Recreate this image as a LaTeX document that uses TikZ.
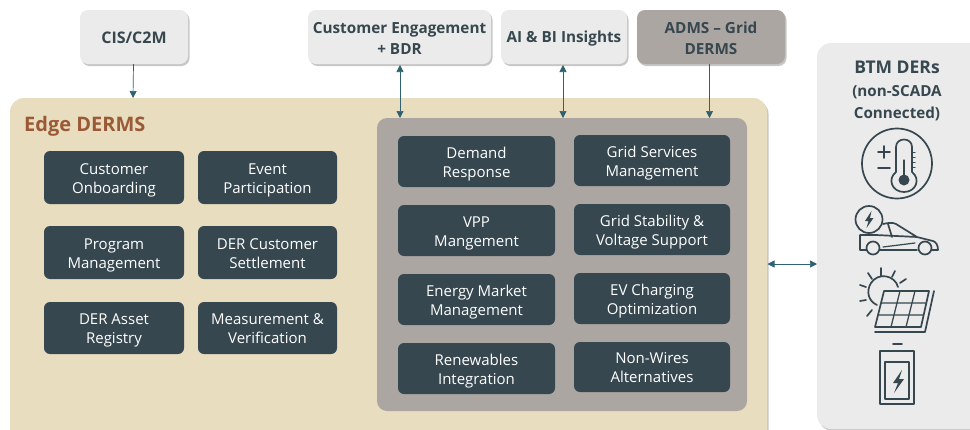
\documentclass[tikz,border=0pt]{standalone}
\usepackage{fontspec}
\setmainfont{Open Sans}
\usetikzlibrary{arrows.meta,shadows}
\definecolor{dk}{HTML}{36474F}
\definecolor{arrowc}{HTML}{2F6170}
\definecolor{tan}{HTML}{E9DDC0}
\definecolor{midgray}{HTML}{ACA6A3}
\definecolor{lightg}{HTML}{ECEBEB}
\definecolor{brownt}{HTML}{9A5A36}
\tikzset{
 x=1pt,y=-1pt,
 softshadow/.style={drop shadow={shadow xshift=1.5pt,shadow yshift=-2pt,fill=black,opacity=.22}},
 func/.style={draw=none,fill=dk,rounded corners=6pt,text=white,font=\fontsize{15}{19}\selectfont,inner sep=0pt},
 ext/.style={fill=lightg,rounded corners=8pt,text=dk,font=\fontsize{15.3}{21}\selectfont\bfseries,inner sep=0pt,softshadow},
 link/.style={draw=arrowc,line width=.7pt,-{Triangle[length=7pt,width=7pt]}},
 linkb/.style={draw=arrowc,line width=.7pt,{Triangle[length=7pt,width=7pt]}-{Triangle[length=7pt,width=7pt]}},
 icon/.style={draw=dk,line width=1.7pt,line join=round,line cap=round},
}
\newcommand{\boxat}[6]{\node[#1,minimum width=#4-#3,minimum height=#6-#5,anchor=center] (#2) at ({(#3+#4)/2},{(#5+#6)/2})}
\newcommand{\tl}[2][2.5pt]{\raisebox{-#1}[\height][\depth]{\begin{tabular}{@{}c@{}}#2\end{tabular}}}
\begin{document}
\begin{tikzpicture}
\useasboundingbox (0,0) rectangle (970,429);
\fill[white] (0,0) rectangle (970,429);
% big panels
\path[fill=tan,rounded corners=14pt,softshadow] (10,98) rectangle (767,445);
\node[anchor=west,text=brownt,font=\fontsize{20}{24}\selectfont\bfseries,inner sep=0pt] (edgetitle) at (24,126.5) {Edge DERMS};
\path[fill=lightg,rounded corners=14pt,softshadow] (817,43) rectangle (990,429);
\boxat{fill=midgray,rounded corners=10pt}{inner}{377}{747}{118}{411} {};
% top
\boxat{ext,font=\fontsize{16}{21}\selectfont\bfseries}{cis}{80}{188}{10}{64} {\tl[2pt]{CIS/C2M}};
\boxat{ext}{ceng}{308}{491}{10}{64} {\tl[3pt]{Customer Engagement\\+ BDR}};
\boxat{ext}{aibi}{501}{627}{10}{64} {\tl[1pt]{AI \& BI Insights}};
\boxat{ext,fill=midgray}{adms}{637}{785}{10}{64} {\tl[3pt]{ADMS -- Grid\\DERMS}};
% left functions
\boxat{func}{a1}{44}{184}{151}{204} {\tl{Customer\\Onboarding}};
\boxat{func}{a2}{198}{337}{151}{204} {\tl{Event\\Participation}};
\boxat{func}{a3}{44}{184}{226}{279} {\tl{Program\\Management}};
\boxat{func}{a4}{198}{337}{226}{279} {\tl{DER Customer\\Settlement}};
\boxat{func}{a5}{44}{184}{302}{354} {\tl{DER Asset\\Registry}};
\boxat{func}{a6}{198}{337}{302}{354} {\tl{Measurement \&\\Verification}};
% right functions
\boxat{func}{b1}{398}{555}{136}{187} {\tl{Demand\\Response}};
\boxat{func}{b2}{398}{555}{205}{256} {\tl{VPP\\Mangement}};
\boxat{func}{b3}{398}{555}{274}{325} {\tl{Energy Market\\Management}};
\boxat{func}{b4}{398}{555}{343}{394} {\tl{Renewables\\Integration}};
\boxat{func}{c1}{574}{730}{135}{186} {\tl{Grid Services\\Management}};
\boxat{func}{c2}{574}{730}{204}{255} {\tl{Grid Stability \&\\Voltage Support}};
\boxat{func}{c3}{574}{730}{273}{324} {\tl{EV Charging\\Optimization}};
\boxat{func}{c4}{574}{730}{342}{392} {\tl{Non-Wires\\Alternatives}};
% BTM title
\node[anchor=center,text=dk,align=center,font=\fontsize{15.2}{22.5}\selectfont\bfseries,inner sep=0pt] (btm) at (897,91) {{\fontsize{17.5}{22.5}\selectfont BTM DERs}\\(non-SCADA\\Connected)};
% connectors
\coordinate (edgetop) at (133,98);
\coordinate (e1) at (400,118);
\coordinate (e2) at (563,118);
\coordinate (e3) at (709.5,118);
\coordinate (h1) at (767.5,264);
\coordinate (h2) at (817,264);
\draw[link] (133.5,64) -- (edgetop);
\draw[linkb] (400,65) -- (e1);
\draw[linkb] (563,65) -- (e2);
\draw[link] (709.5,64) -- (e3);
\draw[linkb] (h1) -- (h2);
% thermometer icon
\draw[icon] (897,163.5) circle (35);
\fill[dk] (904,180) circle (5.5);
\draw[icon] (896,172) -- (896,147) .. controls (896,137) and (912,137) .. (912,147) -- (912,172)
  .. controls (921,179) and (916,192) .. (904,192) .. controls (892,192) and (887,179) .. (896,172) -- cycle;
\draw[icon,line width=1.3pt] (904,160) -- (904,176);
\draw[icon,line width=1pt] (912,152) -- (915,152) (912,157) -- (915,157) (912,162) -- (915,162) (912,167) -- (915,167);
\draw[icon] (878,152) -- (890,152) (884,146) -- (884,158) (878,168) -- (890,168);
% car icon
\draw[icon] (869,219.5) circle (13.5);
\fill[dk] (871.5,211) -- (865,221) -- (868.5,221) -- (866.5,228) -- (873.5,218) -- (870,218) -- cycle;
\draw[icon] (883,224) .. controls (888,223) and (892,222) .. (896,224) -- (917,237) -- (933,241) .. controls (936,242) and (938,245) .. (938,250) -- (932,250)
  (860,235) -- (860,250) -- (866,250) (880,250) -- (917,250)
  (860,235) -- (876,235) (876,235) -- (917,237) (888,224) -- (892,237);
\draw[icon,line width=1.2pt] (883,247) -- (915,243);
\draw[icon] (873,248) circle (6.5) (925,248) circle (6.5);
% solar icon
\draw[icon] (898,287) .. controls (895,275) and (878,272) .. (871,283) .. controls (866,291) and (868,301) .. (877,305);
\draw[icon] (881,268) -- (881,276) (868,273) -- (872,279) (895,271) -- (892,277) (906,279) -- (900,283) (860,285) -- (866,287) (860,301) -- (866,300) (867,316) -- (872,310);
\draw[icon] (884,291) -- (929,291) -- (921,327) -- (875,327) -- cycle;
\draw[icon,line width=1.3pt] (881,303) -- (926,303) (878,315) -- (923,315) (900,291) -- (891,327) (915,291) -- (906,327);
\draw[icon] (934,291) -- (925,332) -- (875,332);
% battery icon
\draw[icon] (893,344) -- (902,344);
\draw[icon] (880,351) -- (914,351) -- (914,404) -- (880,404) -- cycle;
\draw[icon] (885,362) -- (909,362) -- (909,399) -- (885,399) -- cycle;
\fill[dk] (902,370) -- (893,383) -- (898,383) -- (894,393) -- (904,379) -- (899,379) -- cycle;
\end{tikzpicture}
\end{document}
